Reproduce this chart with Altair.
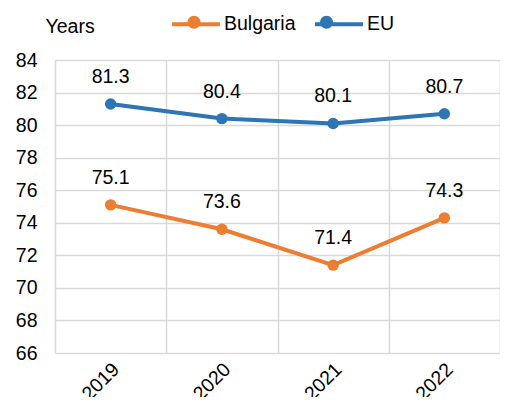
import altair as alt
import pandas as pd

years = ["2019", "2020", "2021", "2022"]
bulgaria = [75.1, 73.6, 71.4, 74.3]
eu = [81.3, 80.4, 80.1, 80.7]
series = ["Bulgaria", "EU"]
colors = ["#ED7D31", "#2E75B6"]
y_ticks = [66, 68, 70, 72, 74, 76, 78, 80, 82, 84]

names = [series[0]] * len(years) + [series[1]] * len(years)
df = pd.DataFrame({
    "year": years * 2,
    "value": bulgaria + eu,
    "series": names,
    "series_dot": names,
})

FONT = "Liberation Sans"
FS = 19.5
W, H = 445, 293

x_enc = alt.X(
    "year:O",
    scale=alt.Scale(paddingInner=0, paddingOuter=0),
    axis=alt.Axis(
        title=None, labelAngle=-45, labelAlign="right", labelBaseline="middle",
        tickBand="extent", labelOffset=5, grid=True, gridColor="#d9d9d9",
        gridWidth=1.5, ticks=False, domain=False, labelFontSize=FS,
        labelFont=FONT, labelColor="#000000", labelPadding=13,
    ),
)
y_enc = alt.Y(
    "value:Q",
    scale=alt.Scale(domain=[66, 84], nice=False, zero=False),
    axis=alt.Axis(
        values=y_ticks, title="Years", titleAngle=0, titleAlign="left",
        titleBaseline="alphabetic", titleX=-10, titleY=-28, titleFontSize=FS,
        titleFont=FONT, titleFontWeight="normal", titleColor="#000000",
        grid=True, gridColor="#d9d9d9", gridWidth=1.5, ticks=False, domain=False,
        labelFontSize=FS, labelFont=FONT, labelColor="#000000", labelPadding=18,
    ),
)

common = dict(
    title=None, orient="none", legendX=115, legendY=-62, direction="horizontal",
    symbolSize=2304, labelFontSize=FS, labelFont=FONT, labelColor="#000000",
    labelOffset=2,
)
line_leg = alt.Legend(symbolType="M-1,0L1,0", symbolStrokeWidth=4, columnPadding=11, **common)
# dot legend: no label text, so its column gap stands in for the "Bulgaria" label width
dot_leg = alt.Legend(
    symbolType="M0.27,0A0.27,0.27,0,1,1,-0.27,0A0.27,0.27,0,1,1,0.27,0",
    symbolStrokeWidth=0, labelExpr="''", columnPadding=11 + 3.668 * FS, **common,
)

base = alt.Chart(df).encode(x=x_enc, y=y_enc)
lines = base.mark_line(strokeWidth=4).encode(
    color=alt.Color("series:N", scale=alt.Scale(domain=series, range=colors), legend=line_leg)
)
points = base.mark_point(filled=True, size=130, opacity=1, strokeWidth=0).encode(
    fill=alt.Fill("series_dot:N", scale=alt.Scale(range=colors), legend=dot_leg),
)
labels = base.mark_text(dy=-27, fontSize=FS, font=FONT, color="#000000").encode(
    text=alt.Text("value:Q", format=".1f")
)

chart = alt.layer(lines, points, labels).properties(
    width=W, height=H,
    autosize=alt.AutoSizeParams(type="none"),
    padding={"left": 47, "top": 52, "right": 0, "bottom": 44},
).configure_view(stroke=None)

chart.save("out.html", embed_options={"renderer": "svg", "actions": False})
